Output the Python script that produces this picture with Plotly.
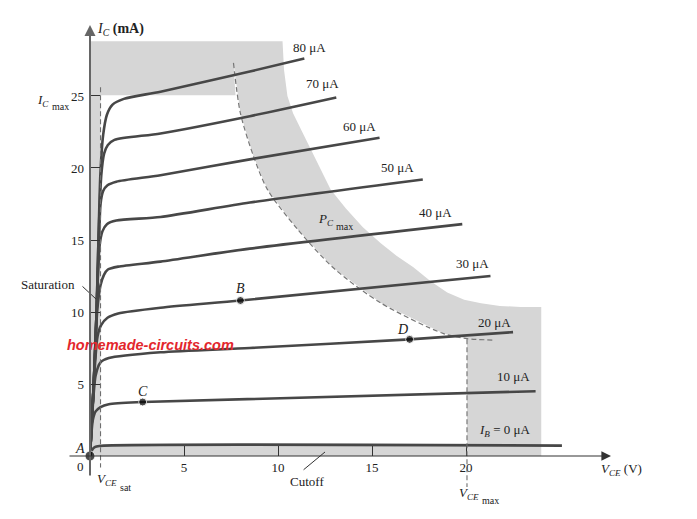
import plotly.graph_objects as go

# ---------------- data ----------------
XMAX = 27.71   # V, end of the V_CE arrow
YMAX = 29.93   # mA, end of the I_C arrow

x_ticks = [5, 10, 15, 20]
y_ticks = [5, 10, 15, 20, 25]

curve_labels = ["80 μA", "70 μA", "60 μA", "50 μA", "40 μA", "30 μA", "20 μA", "10 μA"]

ib80_x = [0, 0.2, 0.35, 0.45, 0.55, 0.7, 0.9, 1.2, 1.8, 3.75, 8.5, 11.4]
ib80_y = [0, 5, 10, 15, 19.5, 22.3, 23.7, 24.4, 24.8, 25.3, 26.7, 27.6]
ib70_x = [0, 0.2, 0.35, 0.45, 0.6, 0.75, 0.95, 1.3, 3.75, 8.5, 13.1]
ib70_y = [0, 5, 10, 15, 19.5, 21.0, 21.6, 21.95, 22.4, 23.6, 24.9]
ib60_x = [0, 0.2, 0.35, 0.48, 0.56, 0.7, 0.93, 1.4, 3.75, 8.5, 15.4]
ib60_y = [0, 5, 10, 15, 17.5, 18.4, 18.8, 19.05, 19.5, 20.6, 22.1]
ib50_x = [0, 0.2, 0.35, 0.5, 0.66, 0.9, 1.4, 3.75, 8.5, 17.7]
ib50_y = [0, 5, 10, 14.5, 15.6, 16.1, 16.35, 16.6, 17.6, 19.2]
ib40_x = [0, 0.2, 0.38, 0.55, 0.75, 0.95, 1.5, 3.75, 8.5, 19.8]
ib40_y = [0, 5, 10, 11.8, 12.6, 12.95, 13.15, 13.5, 14.4, 16.1]
ib30_x = [0, 0.2, 0.4, 0.6, 0.93, 1.5, 3.75, 8.0, 21.3]
ib30_y = [0, 5, 8.3, 9.1, 9.6, 9.9, 10.3, 10.8, 12.5]
ib20_x = [0, 0.15, 0.3, 0.56, 1.0, 3.75, 8.5, 17.0, 22.5]
ib20_y = [0, 3.5, 5.6, 6.5, 6.8, 7.2, 7.5, 8.1, 8.6]
ib10_x = [0, 0.15, 0.3, 0.56, 1.0, 2.8, 23.7]
ib10_y = [0, 2.5, 3.1, 3.4, 3.6, 3.75, 4.5]
ib0_x = [0, 0.1, 0.25, 0.5, 25.1]
ib0_y = [0, 0.4, 0.62, 0.7, 0.72]

# P_C max dashed boundary
pc_x = [7.63, 8.0, 8.7, 9.44, 11.0, 13.0, 15.5, 18.8, 20.05, 21.5]
pc_y = [27.3, 23.8, 20.8, 18.5, 15.8, 13.0, 10.6, 8.5, 8.15, 8.05]

# outer boundary of the shaded (unsafe) region, read top to bottom
band_x = [10.24, 10.32, 10.5, 10.8, 11.25, 12.1, 12.8, 13.6, 14.5, 15.45, 16.3, 17.2, 18.1, 19.0, 19.9, 20.8, 21.8, 22.9, 24.0]
band_y = [28.8, 26.8, 25.0, 23.8, 22.6, 20.3, 18.5, 17.2, 15.9, 14.8, 13.9, 13.1, 12.15, 11.35, 10.85, 10.6, 10.42, 10.35, 10.35]

VCE_SAT = 0.56
VCE_MAX = 20.05
IC_MAX = 25.05
IB0_LEVEL = 0.72
SHADE_TOP = 28.8
SHADE_RIGHT = 24.0

# operating points
pt_names = ["A", "B", "C", "D"]
pt_x = [0, 8.0, 2.8, 17.0]
pt_y = [0, 10.8, 3.75, 8.1]

# ---------------- figure ----------------
SERIF = "Liberation Serif"
TXT = "#222222"
GRAY = "#d6d6d6"
CURVE = "#474747"

fig = go.Figure()

# shaded region (outer outline)
outer_x = [0, SHADE_RIGHT] + band_x[::-1] + [0, 0]
outer_y = [0, 0] + band_y[::-1] + [SHADE_TOP, 0]
fig.add_trace(go.Scatter(x=outer_x, y=outer_y, fill="toself", fillcolor=GRAY,
                         mode="lines", line=dict(width=0), hoverinfo="skip"))
# safe operating area (white)
hole_x = [VCE_SAT, VCE_MAX, VCE_MAX] + pc_x[:-2][::-1] + [7.74, VCE_SAT, VCE_SAT]
hole_y = [IB0_LEVEL, IB0_LEVEL, pc_y[-2]] + pc_y[:-2][::-1] + [IC_MAX, IC_MAX, IB0_LEVEL]
fig.add_trace(go.Scatter(x=hole_x, y=hole_y, fill="toself", fillcolor="white",
                         mode="lines", line=dict(width=0), hoverinfo="skip"))

# P_C max dashed curve
fig.add_trace(go.Scatter(x=pc_x, y=pc_y, mode="lines",
                         line=dict(color="#777777", width=1.2, dash="5px,3px", shape="spline", smoothing=0.8),
                         hoverinfo="skip"))

curves = [(ib80_x, ib80_y), (ib70_x, ib70_y), (ib60_x, ib60_y), (ib50_x, ib50_y),
          (ib40_x, ib40_y), (ib30_x, ib30_y), (ib20_x, ib20_y), (ib10_x, ib10_y),
          (ib0_x, ib0_y)]
for cx, cy in curves:
    fig.add_trace(go.Scatter(x=cx, y=cy, mode="lines",
                             line=dict(color=CURVE, width=2.6, shape="spline", smoothing=0.7),
                             hoverinfo="skip"))

fig.add_trace(go.Scatter(x=pt_x, y=pt_y, mode="markers", cliponaxis=False,
                         marker=dict(color="black", size=[10, 8, 8, 8]), hoverinfo="skip"))

def px(v):
    return v / XMAX

def py(v):
    return v / YMAX

shapes = [
    dict(type="line", xref="x", yref="paper", x0=VCE_SAT, x1=VCE_SAT, y0=py(25.6), y1=py(-0.8),
         line=dict(color="#6f6f6f", width=1.1, dash="5px,3px")),
    dict(type="line", xref="x", yref="paper", x0=VCE_MAX, x1=VCE_MAX, y0=py(8.1), y1=py(-2.15),
         line=dict(color="#6f6f6f", width=1.1, dash="5px,3px")),
]

ann = []
def text(x, y, t, size=13, xanchor="center", **kw):
    # positions given in data units, placed in paper space so that texts
    # outside the axis ranges are still shown
    d = dict(x=px(x), y=py(y), xref="paper", yref="paper", text=t, showarrow=False,
             xanchor=xanchor, yanchor="middle",
             font=dict(family=SERIF, size=size, color=TXT))
    d.update(kw)
    ann.append(d)

label_pos = [(11.65, 28.4), (12.34, 25.9), (14.36, 22.9), (16.38, 20.0),
             (18.35, 16.94), (20.32, 13.4), (21.49, 9.24), (22.5, 5.49)]
for (lx, ly), lab in zip(label_pos, curve_labels):
    text(lx, ly, lab)
text(22.07, 1.74, "<i>I<sub>B</sub></i> = 0 μA")
text(12.55, 16.4, "<i>P<sub>C</sub></i>")
text(12.98, 15.97, "max", size=10, xanchor="left")
text(-2.23, 11.9, "Saturation")
text(11.54, -1.8, "Cutoff")
text(-0.48, -0.76, "0")
text(0.9, -1.6, "<i>V<sub>CE</sub></i>")
text(1.49, -2.22, "sat", size=10, xanchor="left")
text(20.16, -2.57, "<i>V<sub>CE</sub></i>")
text(20.74, -3.06, "max", size=10, xanchor="left")
text(28.25, -0.97, "<i>V<sub>CE</sub></i> (V)")
text(1.6, 29.6, "<i>I<sub>C</sub></i> <b>(mA)</b>", size=14)
text(-2.5, 24.72, "<i>I<sub>C</sub></i>")
text(-2.13, 24.24, "max", size=10, xanchor="left")
for n, x, y, dx, dy in zip(pt_names, pt_x, pt_y, [-0.53, 0, 0, -0.4], [0.55, 0.8, 0.75, 0.65]):
    text(x + dx, y + dy, "<i>" + n + "</i>", size=14)

# watermark
ann.append(dict(x=px(3.2), y=py(7.7), xref="paper", yref="paper", showarrow=False,
                xanchor="center", yanchor="middle",
                text="<b><i>homemade-circuits.com</i></b>",
                font=dict(family="Liberation Sans", size=14.5, color="#e3262c")))

# leader lines
ann.append(dict(x=0.32, y=10.9, ax=-0.48, ay=11.875, xref="x", yref="y", axref="x", ayref="y",
                text="", showarrow=True, arrowhead=0, arrowwidth=1, arrowcolor="#333"))
ann.append(dict(x=12.5, y=0.28, ax=11.28, ay=-1.04, xref="x", yref="y", axref="x", ayref="y",
                text="", showarrow=True, arrowhead=0, arrowwidth=1, arrowcolor="#333"))
# axes with arrowheads
ann.append(dict(x=0, y=YMAX, ax=0, ay=-1.46, xref="x", yref="y", axref="x", ayref="y",
                text="", showarrow=True, arrowhead=2, arrowsize=1.1, arrowwidth=2, arrowcolor="#666"))
ann.append(dict(x=XMAX, y=0, ax=-1.17, ay=0, xref="x", yref="y", axref="x", ayref="y",
                text="", showarrow=True, arrowhead=2, arrowsize=1.6, arrowwidth=1.2, arrowcolor="#333"))

fig.update_layout(
    width=697, height=519,
    margin=dict(l=90, r=86, t=25, b=63, autoexpand=False),
    paper_bgcolor="white", plot_bgcolor="white",
    showlegend=False,
    shapes=shapes, annotations=ann,
    xaxis=dict(range=[0, XMAX], tickvals=x_ticks, ticks="inside", ticklen=10, tickwidth=1.2,
               tickcolor="#333", showline=False, showgrid=False, zeroline=False,
               ticklabelstandoff=2,
               tickfont=dict(family=SERIF, size=13, color=TXT), fixedrange=True),
    yaxis=dict(range=[0, YMAX], tickvals=y_ticks, ticks="inside", ticklen=10, tickwidth=1.2,
               tickcolor="#333", showline=False, showgrid=False, zeroline=False,
               ticklabelstandoff=5,
               tickfont=dict(family=SERIF, size=13, color=TXT), fixedrange=True),
)

fig.write_html("out.html")
